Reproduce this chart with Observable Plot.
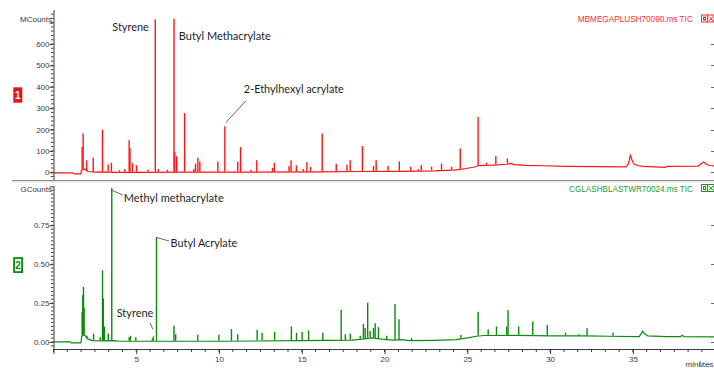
<!DOCTYPE html>
<html><head><meta charset="utf-8">
<script src="https://cdn.jsdelivr.net/npm/d3@7"></script>
<script src="https://cdn.jsdelivr.net/npm/@observablehq/plot@0.6"></script>
<style>
body{margin:0;background:#fff;}
#wrap{position:relative;width:714px;height:368px;overflow:hidden;background:#fff;}
#wrap svg{position:absolute;left:0;overflow:visible;}
</style></head><body><div id="wrap"></div>
<script>
// ---------------- data ----------------
const minuteTicks = [0, 5, 10, 15, 20, 25, 30, 35];
const mcountTicks = [0, 100, 200, 300, 400, 500, 600, 700];
const gcountTicks = [0, 0.25, 0.5, 0.75, 1];

const topTitle = "MBMEGAPLUSH70090.ms TIC";
const bottomTitle = "CGLASHBLASTWR70024.ms TIC";
const topUnit = "MCounts";
const bottomUnit = "GCounts";
const xUnit = "minutes";

// sample 1 (red) – baseline and peaks, minutes / MCounts
const redBaseTime  = [0, 1.15, 1.2, 1.62, 1.66, 1.85, 2.05, 2.5, 3.0, 3.6, 5.0, 8.0, 12.0, 16.0, 18.5, 21.0, 23.0, 24.3, 24.9, 25.4, 25.65, 26.5, 27.4, 27.6, 27.8, 28.5, 29.5, 31.0, 33.0, 34.55, 34.7, 34.82, 34.9, 35.05, 35.3, 35.6, 36.95, 37.0, 38.9, 39.05, 39.24, 39.4, 39.6, 39.9];
const redBaseValue = [0, 0, -5, -5, 12, 18, 6, 3, 4, 2, 2, 3, 3, 4, 6, 7, 9, 14, 20, 27, 34, 36, 40, 44, 38, 35, 33, 30, 29, 28, 42, 84, 62, 40, 33, 30, 25, 30, 31, 40, 51, 40, 34, 32];
const redPeakTime   = [1.70, 1.76, 1.97, 2.37, 2.93, 3.27, 3.47, 3.95, 4.28, 4.54, 4.59, 4.74, 4.98, 5.68, 6.12, 6.30, 6.85, 7.25, 7.29, 7.41, 7.89, 8.45, 8.55, 8.69, 8.81, 9.90, 10.32, 11.10, 11.27, 11.90, 12.25, 13.20, 13.31, 14.20, 14.32, 14.64, 15.05, 15.28, 15.50, 16.20, 17.05, 17.70, 17.89, 18.63, 19.30, 19.46, 20.18, 20.86, 21.55, 22.00, 22.19, 22.81, 23.41, 24.02, 24.54, 25.62, 26.13, 26.69, 27.03, 27.39];
const redPeakHeight = [118, 181, 56, 68, 200, 37, 45, 10, 15, 150, 112, 42, 33, 12, 715, 15, 12, 718, 95, 75, 277, 15, 40, 68, 50, 51, 215, 51, 118, 12, 56, 20, 44, 30, 56, 33, 15, 47, 25, 181, 40, 35, 56, 123, 30, 56, 30, 51, 26, 15, 34, 26, 41, 26, 111, 259, 45, 76, 37, 64];

// sample 2 (green) – baseline and peaks, minutes / GCounts
const greenBaseTime  = [0, 1.0, 1.05, 1.63, 1.67, 1.85, 2.0, 2.3, 3.0, 3.6, 4.0, 6.0, 10.0, 15.0, 18.0, 18.6, 19.2, 19.8, 20.5, 21.0, 21.5, 23.0, 24.3, 25.0, 25.5, 26.0, 28.0, 30.0, 32.0, 33.5, 35.35, 35.5, 35.56, 35.65, 35.85, 37.0, 37.85, 37.95, 38.05, 39.9];
const greenBaseValue = [0.004, 0.004, -0.002, -0.002, 0.04, 0.05, 0.025, 0.012, 0.01, 0.012, 0.008, 0.008, 0.008, 0.012, 0.015, 0.022, 0.03, 0.022, 0.015, 0.018, 0.012, 0.014, 0.018, 0.03, 0.04, 0.045, 0.046, 0.043, 0.042, 0.04, 0.038, 0.062, 0.074, 0.06, 0.043, 0.038, 0.038, 0.046, 0.038, 0.036];
const greenPeakTime   = [1.70, 1.74, 1.78, 1.82, 1.99, 2.39, 2.79, 2.93, 2.98, 3.05, 3.28, 3.49, 4.54, 4.62, 4.94, 5.94, 6.00, 6.19, 7.25, 7.35, 8.69, 9.96, 10.72, 11.10, 12.27, 12.57, 13.33, 14.34, 14.65, 14.99, 15.38, 16.24, 17.35, 17.60, 17.90, 18.50, 18.69, 18.80, 18.95, 19.10, 19.30, 19.40, 19.60, 20.10, 20.60, 20.84, 21.60, 24.58, 25.62, 26.23, 26.73, 27.35, 27.43, 28.07, 28.92, 29.80, 30.90, 31.70, 32.20, 33.77];
const greenPeakHeight = [0.195, 0.30, 0.355, 0.22, 0.04, 0.053, 0.03, 0.461, 0.28, 0.10, 0.055, 0.989, 0.03, 0.04, 0.03, 0.02, 0.035, 0.674, 0.104, 0.05, 0.047, 0.047, 0.083, 0.05, 0.078, 0.06, 0.065, 0.10, 0.06, 0.065, 0.074, 0.06, 0.206, 0.05, 0.055, 0.04, 0.117, 0.09, 0.253, 0.07, 0.09, 0.12, 0.095, 0.04, 0.244, 0.147, 0.025, 0.045, 0.195, 0.08, 0.10, 0.10, 0.206, 0.10, 0.131, 0.11, 0.06, 0.05, 0.089, 0.06];

// labelled compounds (retention time of the labelled peak)
const redNames = ["Styrene", "Butyl Methacrylate", "2-Ethylhexyl acrylate"];
const redNameTime = [6.12, 7.25, 10.32];
const greenNames = ["Methyl methacrylate", "Butyl Acrylate", "Styrene"];
const greenNameTime = [3.49, 6.19, 6.00];

// ---------------- drawing ----------------
const W = 714;
const xDomain = [0, 39.9];
const RED = "#ff1414", GREEN = "#0b8a0b";
const AXIS = "#3c3c3c";
const LABEL_FONT = "Lato, 'Open Sans', sans-serif";

function heightAt(times, heights, t) { return heights[times.indexOf(t)]; }

// leader line drawn relative to a peak apex (pixel offsets)
function leader(t, h, ox1, oy1, ox2, oy2) {
  return (index, scales) => {
    const x = scales.x(t), y = scales.y(h);
    return d3.create("svg:line")
      .attr("x1", x + ox1).attr("y1", y + oy1)
      .attr("x2", x + ox2).attr("y2", y + oy2)
      .attr("stroke", "#555").attr("stroke-width", 0.9).node();
  };
}
// unlabeled minor ticks on the left axis
function minorYTicks(values, size) {
  return (index, scales, v, dims) => {
    const g = d3.create("svg:g").attr("stroke", AXIS);
    const x0 = dims.marginLeft;
    for (const val of values) {
      const y = scales.y(val);
      if (y < dims.marginTop - 0.5 || y > dims.height - dims.marginBottom + 0.5) continue;
      g.append("line").attr("x1", x0 - size).attr("x2", x0).attr("y1", y).attr("y2", y);
    }
    return g.node();
  };
}
// unlabeled minor ticks on the bottom axis
function minorXTicks(values, size) {
  return (index, scales, v, dims) => {
    const g = d3.create("svg:g").attr("stroke", AXIS);
    const y0 = dims.height - dims.marginBottom;
    for (const val of values) {
      const x = scales.x(val);
      g.append("line").attr("x1", x).attr("x2", x).attr("y1", y0).attr("y2", y0 + size);
    }
    return g.node();
  };
}
// short ticks hugging the right edge
function edgeTicks(values) {
  return (index, scales, v, dims) => {
    const g = d3.create("svg:g").attr("stroke", "#666");
    for (const val of values) {
      const y = Math.round(scales.y(val)) + 0.5;
      g.append("line").attr("x1", dims.width - 3).attr("x2", dims.width).attr("y1", y).attr("y2", y);
    }
    return g.node();
  };
}

function tracePanel(o) {
  const base = o.baseTime.map((t, i) => ({t, v: o.baseValue[i]}));
  const peaks = o.peakTime.map((t, i) => ({t, h: o.peakHeight[i]}));
  const marks = [
    Plot.ruleX(peaks, {x: "t", y1: 0, y2: "h", stroke: o.color, strokeWidth: 1.4}),
    Plot.areaY(base, {x: "t", y1: o.yDomain[0], y2: "v", fill: "white"}),
    Plot.lineY(base, {x: "t", y: "v", stroke: o.color, strokeWidth: 1.2}),
    Plot.ruleX([0], {stroke: AXIS, strokeWidth: 1}),
    minorYTicks(o.minorY, 2.5),
    Plot.axisY(o.majorY, {tickSize: 4, tickPadding: 0.5, tickFormat: o.fmt, stroke: AXIS, fill: AXIS, fontSize: 8}),
    edgeTicks(o.majorY.filter(d => d !== o.majorY[o.majorY.length - 1])),
    Plot.text([o.unit], {frameAnchor: "top-left", textAnchor: "end", lineAnchor: "middle", dx: -2, dy: o.unitDy, fill: AXIS, fontSize: 8}),
    Plot.text([o.title], {frameAnchor: "top-right", textAnchor: "end", lineAnchor: "middle", dx: -21.7, dy: o.titleDy, fill: o.titleColor, fontSize: 9})
  ];
  o.names.forEach((name, i) => {
    const t = o.nameTime[i];
    const h = heightAt(o.peakTime, o.peakHeight, t);
    const a = o.anno[i];
    marks.push(Plot.text([{t, h, name}], {x: "t", y: "h", text: "name", textAnchor: a.anchor, dx: a.dx, dy: a.dy,
      fill: "#1e1e1e", fontSize: 12, fontFamily: LABEL_FONT}));
    if (a.lead) marks.push(leader(t, h, ...a.lead));
  });
  if (o.showX) {
    marks.push(
      Plot.ruleY([o.yDomain[0]], {stroke: AXIS, strokeWidth: 1}),
      minorXTicks(d3.range(0, 40, 5 / 6), 3),
      Plot.axisX(minuteTicks, {tickSize: 5, tickPadding: 1.5, stroke: AXIS, fill: AXIS, fontSize: 8, tickFormat: d => d === 0 ? "" : d}),
      Plot.text([xUnit], {frameAnchor: "bottom-right", textAnchor: "start", lineAnchor: "middle", dx: -29, dy: 14.5, fill: AXIS, fontSize: 8})
    );
  }
  const svg = Plot.plot({
    width: W, height: o.height,
    marginLeft: 53.5, marginRight: 0, marginTop: o.marginTop, marginBottom: o.marginBottom,
    x: {domain: xDomain, axis: o.showX ? undefined : null},
    y: {domain: o.yDomain},
    style: {fontFamily: "'Liberation Sans', Arial, sans-serif", fontSize: "8px", color: AXIS, background: "transparent", overflow: "visible"},
    marks
  });
  // fit label widths to the reference
  const widths = o.widths;
  d3.select(svg).selectAll("text").each(function () {
    const s = this.textContent;
    if (widths[s]) d3.select(this).attr("textLength", widths[s]).attr("lengthAdjust", "spacingAndGlyphs");
  });
  return svg;
}

const wrap = document.getElementById("wrap");

const topSvg = tracePanel({
  height: 181, marginTop: 10, marginBottom: 0, yDomain: [-40.7, 759],
  baseTime: redBaseTime, baseValue: redBaseValue, peakTime: redPeakTime, peakHeight: redPeakHeight,
  color: RED, majorY: mcountTicks, minorY: d3.range(-40, 760, 20),
  fmt: d => d === 700 ? "" : d, unit: topUnit, unitDy: 8.5,
  title: topTitle, titleDy: 8.3, titleColor: "#ff3030",
  names: redNames, nameTime: redNameTime,
  anno: [
    {anchor: "end", dx: -6.5, dy: 7.3},
    {anchor: "start", dx: 4.8, dy: 16.9},
    {anchor: "start", dx: 19, dy: -38, lead: [1.7, -4, 21.7, -25.6]}
  ],
  widths: {"MBMEGAPLUSH70090.ms TIC": 115, "Styrene": 36.6, "Butyl Methacrylate": 92, "2-Ethylhexyl acrylate": 100},
  showX: false
});
topSvg.style.top = "0px";
wrap.appendChild(topSvg);

const botSvg = tracePanel({
  height: 187, marginTop: 5, marginBottom: 19, yDomain: [-0.045, 1.0026],
  baseTime: greenBaseTime, baseValue: greenBaseValue, peakTime: greenPeakTime, peakHeight: greenPeakHeight,
  color: GREEN, majorY: gcountTicks, minorY: d3.range(-0.025, 1.0, 0.025),
  fmt: d => d === 1 ? "" : d3.format(".2f")(d), unit: bottomUnit, unitDy: 3,
  title: bottomTitle, titleDy: 2.5, titleColor: "#2b9a2b",
  names: greenNames, nameTime: greenNameTime,
  anno: [
    {anchor: "start", dx: 12, dy: 9.2, lead: [0, 1.9, 11.4, 6.9]},
    {anchor: "start", dx: 14.1, dy: 5.6, lead: [0, 0.2, 13, 3.9]},
    {anchor: "end", dx: 0, dy: -23.9, lead: [-2.8, -13.9, 0, -7.3]}
  ],
  widths: {"CGLASHBLASTWR70024.ms TIC": 123.7, "Styrene": 36.7, "Methyl methacrylate": 100, "Butyl Acrylate": 66.7},
  showX: true
});
botSvg.style.top = "181px";
wrap.appendChild(botSvg);

// ---------- window decorations ----------
const deco = d3.select(wrap).append("svg").attr("width", W).attr("height", 368).style("top", "0px")
  .style("pointer-events", "none");
deco.append("line").attr("x1", 12).attr("x2", W).attr("y1", 180.5).attr("y2", 180.5).attr("stroke", "#8c8c8c").attr("stroke-width", 1.2);
deco.append("line").attr("x1", 12).attr("x2", W).attr("y1", 181.8).attr("y2", 181.8).attr("stroke", "#dcdcdc").attr("stroke-width", 1);
// panel number badges
deco.append("rect").attr("x", 13.3).attr("y", 87.3).attr("width", 9).attr("height", 15.4).attr("fill", "#e8141c");
deco.append("text").attr("x", 17.8).attr("y", 95).attr("dy", "0.35em").attr("text-anchor", "middle")
  .attr("fill", "#fff").attr("font-size", 10).attr("font-weight", "bold").attr("font-family", "'Liberation Sans', Arial").text("1");
deco.append("rect").attr("x", 14.1).attr("y", 258.1).attr("width", 8).attr("height", 14).attr("fill", "#fff").attr("stroke", "#0a8a0a").attr("stroke-width", 1.8);
deco.append("text").attr("x", 18.1).attr("y", 265.1).attr("dy", "0.35em").attr("text-anchor", "middle")
  .attr("fill", "#0a8a0a").attr("font-size", 10).attr("font-weight", "bold").attr("font-family", "'Liberation Sans', Arial").text("2");
// small window icons
function icons(y, c) {
  const g = deco.append("g").attr("stroke", c).attr("fill", "none").attr("stroke-width", 1);
  g.append("rect").attr("x", 701.5).attr("y", y + 0.5).attr("width", 6).attr("height", 7);
  g.append("rect").attr("x", 703.5).attr("y", y + 2.5).attr("width", 2).attr("height", 3);
  g.append("rect").attr("x", 707.5).attr("y", y + 0.5).attr("width", 6.5).attr("height", 7);
  g.append("line").attr("x1", 709).attr("y1", y + 2).attr("x2", 713).attr("y2", y + 6.5);
  g.append("line").attr("x1", 713).attr("y1", y + 2).attr("x2", 709).attr("y2", y + 6.5);
}
icons(14.5, "#ff2a2a");
icons(184, "#1a9a1a");
</script></body></html>
